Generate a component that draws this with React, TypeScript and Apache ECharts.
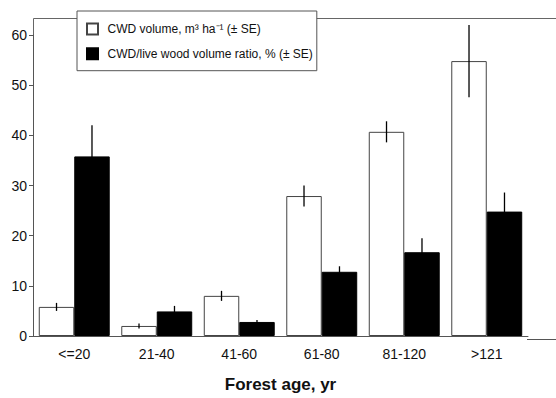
import React, { useEffect, useRef } from "react";
import * as echarts from "echarts";

const categories = ["<=20", "21-40", "41-60", "61-80", "81-120", ">121"];
const cwdVolume = [5.8, 2.0, 8.0, 27.9, 40.7, 54.8];
const cwdVolumeSE = [0.8, 0.5, 1.0, 2.1, 2.1, 7.2];
const cwdRatio = [35.8, 4.9, 2.8, 12.8, 16.7, 24.8];
const cwdRatioSE = [6.2, 1.1, 0.4, 1.1, 2.8, 3.8];
const seriesNames = ["CWD volume, m³ ha⁻¹ (± SE)", "CWD/live wood volume ratio, % (± SE)"];
const xTitle = "Forest age, yr";

const FONT = "'Liberation Sans', Arial, Helvetica, sans-serif";
const BAR_FRAC = 0.43;

export default function App() {
  const ref = useRef<HTMLDivElement>(null);
  useEffect(() => {
    if (!ref.current) return;
    const chart = echarts.init(ref.current, null, { renderer: "svg" });
    const errData = (vals: number[], se: number[]) => vals.map((v, i) => [i, v, se[i]]);
    const errSeries = (vals: number[], se: number[], side: number) => ({
      type: "custom",
      data: errData(vals, se),
      encode: { x: 0, y: 1 },
      z: 5,
      silent: true,
      renderItem: (params: any, api: any) => {
        const x = api.value(0);
        const v = api.value(1);
        const s = api.value(2);
        const top = api.coord([x, v + s]);
        const bot = api.coord([x, v - s]);
        const band = api.size([1, 0])[0];
        const off = (side * band * BAR_FRAC) / 2;
        return {
          type: "line",
          shape: { x1: top[0] + off, y1: top[1], x2: bot[0] + off, y2: bot[1] },
          style: { stroke: "#000", lineWidth: 1.3 },
        };
      },
    });
    chart.setOption({
      animation: false,
      backgroundColor: "#fff",
      textStyle: { fontFamily: FONT },
      grid: { left: 33, right: 28, top: 35, bottom: 59, containLabel: false },
      legend: {
        orient: "vertical",
        left: 77,
        top: 11,
        data: seriesNames,
        icon: "rect",
        itemWidth: 11,
        itemHeight: 11,
        itemGap: 10.7,
        padding: [11, 4, 10, 9],
        borderColor: "#555",
        borderWidth: 1,
        backgroundColor: "#fff",
        z: 10,
        textStyle: {
          fontFamily: FONT,
          fontSize: 12,
          color: "#111",
          lineHeight: 14,
          padding: [0, 0, 0, 4.5],
        },
      },
      xAxis: {
        type: "category",
        data: categories,
        name: xTitle,
        nameLocation: "middle",
        nameGap: 40,
        nameTextStyle: { fontFamily: FONT, fontSize: 17, fontWeight: "bold", color: "#111" },
        axisLine: { lineStyle: { color: "#555", width: 1 } },
        axisTick: { show: false },
        axisLabel: { fontFamily: FONT, fontSize: 14, color: "#111", margin: 11 },
      },
      yAxis: {
        type: "value",
        min: 0,
        max: 60,
        interval: 10,
        splitLine: { show: false },
        axisLine: { show: true, lineStyle: { color: "#555", width: 1 } },
        axisTick: { show: true, length: 4, lineStyle: { color: "#555" } },
        axisLabel: { fontFamily: FONT, fontSize: 14, color: "#111", margin: 6 },
      },
      graphic: [
        {
          type: "polyline",
          z: 0,
          silent: true,
          shape: { points: [[33.5, 35], [33.5, 18.5], [556, 18.5]] },
          style: { stroke: "#666", lineWidth: 1, fill: null },
        },
        {
          type: "line",
          z: 0,
          silent: true,
          shape: { x1: 527, y1: 339.5, x2: 556, y2: 339.5 },
          style: { stroke: "#555", lineWidth: 1 },
        },
      ],
      series: [
        {
          name: seriesNames[0],
          type: "bar",
          data: cwdVolume,
          barWidth: `${BAR_FRAC * 100}%`,
          barGap: "0%",
          itemStyle: { color: "#fff", borderColor: "#444", borderWidth: 1 },
        },
        {
          name: seriesNames[1],
          type: "bar",
          data: cwdRatio,
          barWidth: `${BAR_FRAC * 100}%`,
          barGap: "0%",
          itemStyle: { color: "#000", borderColor: "#000", borderWidth: 1 },
        },
        errSeries(cwdVolume, cwdVolumeSE, -1),
        errSeries(cwdRatio, cwdRatioSE, 1),
      ],
    });
    return () => chart.dispose();
  }, []);
  return (
    <div
      ref={ref}
      style={{ position: "fixed", left: 0, top: 0, width: 556, height: 398, background: "#fff" }}
    />
  );
}
